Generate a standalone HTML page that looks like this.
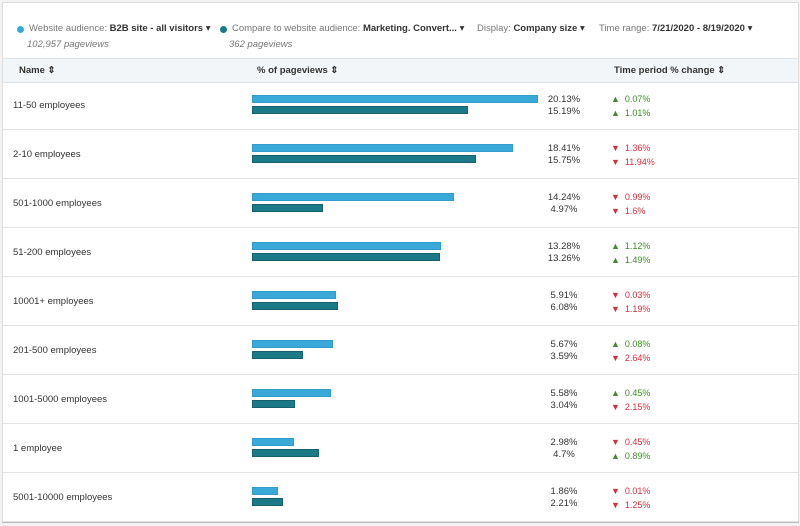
<!DOCTYPE html>
<html><head><meta charset="utf-8"><style>
body{margin:0;width:800px;height:526px;background:#f3f3f3;font-family:"Liberation Sans",sans-serif;color:#333;overflow:hidden;position:relative}
#card{position:absolute;left:2px;top:2px;width:795px;height:518px;background:#fff;border:1px solid #ddd;border-bottom:2px solid #bbb}
.t{position:absolute;font-size:9.5px;white-space:nowrap}
.dot{position:absolute;width:7px;height:7px;border-radius:50%}
.b{font-weight:bold}
.g{color:#777}
#hdr{position:absolute;left:0;top:55px;width:795px;height:23px;background:#f3f6f8;border-top:1px solid #e0e3e6;border-bottom:1px solid #dde0e3}
.row{position:absolute;left:0;width:795px;height:49px;border-bottom:1px solid #e2e2e2}
.bar{position:absolute;height:8px;box-sizing:border-box}
.up{color:#3f8a2a}.dn{color:#d32f3f}
</style></head><body>
<div id="card">
<div class="dot" style="left:14px;top:23px;background:#38a8d9"></div>
<div class="t" style="left:26px;top:20px"><span class="g">Website audience: </span><span class="b">B2B site - all visitors</span> ▾</div>
<div class="t g" style="left:24px;top:36px;font-style:italic">102,957 pageviews</div>
<div class="dot" style="left:217px;top:23px;background:#1a7a88"></div>
<div class="t" style="left:229px;top:20px"><span class="g">Compare to website audience: </span><span class="b">Marketing. Convert...</span> ▾</div>
<div class="t g" style="left:226px;top:36px;font-style:italic">362 pageviews</div>
<div class="t" style="left:474px;top:20px"><span class="g">Display: </span><span class="b">Company size</span> ▾</div>
<div class="t" style="left:596px;top:20px"><span class="g">Time range: </span><span class="b">7/21/2020 - 8/19/2020</span> ▾</div>
<div id="hdr">
<div class="t b" style="left:16px;top:6px">Name ⇕</div>
<div class="t b" style="left:254px;top:6px">% of pageviews ⇕</div>
<div class="t b" style="left:611px;top:6px">Time period % change ⇕</div>
</div>
<div id="rows"></div>
</div>
<script>
const categories=["11-50 employees","2-10 employees","501-1000 employees","51-200 employees","10001+ employees","201-500 employees","1001-5000 employees","1 employee","5001-10000 employees"];
const audienceValues=[20.13,18.41,14.24,13.28,5.91,5.67,5.58,2.98,1.86];
const compareValues=[15.19,15.75,4.97,13.26,6.08,3.59,3.04,4.7,2.21];
const audienceLabels=["20.13%","18.41%","14.24%","13.28%","5.91%","5.67%","5.58%","2.98%","1.86%"];
const compareLabels=["15.19%","15.75%","4.97%","13.26%","6.08%","3.59%","3.04%","4.7%","2.21%"];
const audienceChange=[0.07,-1.36,-0.99,1.12,-0.03,0.08,0.45,-0.45,-0.01];
const compareChange=[1.01,-11.94,-1.6,1.49,-1.19,-2.64,-2.15,0.89,-1.25];
const x=v=>v*14.2;
const rows=document.getElementById('rows');
categories.forEach((c,i)=>{
 const r=document.createElement('div');r.className='row';r.style.top=(77+i*49)+'px';
 
 
 const fmt=v=>Math.abs(v)+'%';
 const ch=(v,top)=>`<div class="t ${v>=0?'up':'dn'}" style="left:608px;top:${top}px;font-size:9px">${v>=0?'▲':'▼'}&nbsp; ${fmt(v)}</div>`;
 r.innerHTML=`<div class="t" style="left:10px;top:20px">${c}</div>
 <div class="bar" style="left:249px;top:15px;width:${x(audienceValues[i])}px;background:#3aa9da;border:1px solid #2f9cc9"></div>
 <div class="bar" style="left:249px;top:26px;width:${x(compareValues[i])}px;background:#1c7a88;border:1px solid #15626d"></div>
 <div class="t" style="left:530px;width:62px;text-align:center;top:14px">${audienceLabels[i]}</div>
 <div class="t" style="left:530px;width:62px;text-align:center;top:26px">${compareLabels[i]}</div>
 ${ch(audienceChange[i],14)}${ch(compareChange[i],28)}`;
 rows.appendChild(r);
});
</script>
</body></html>
